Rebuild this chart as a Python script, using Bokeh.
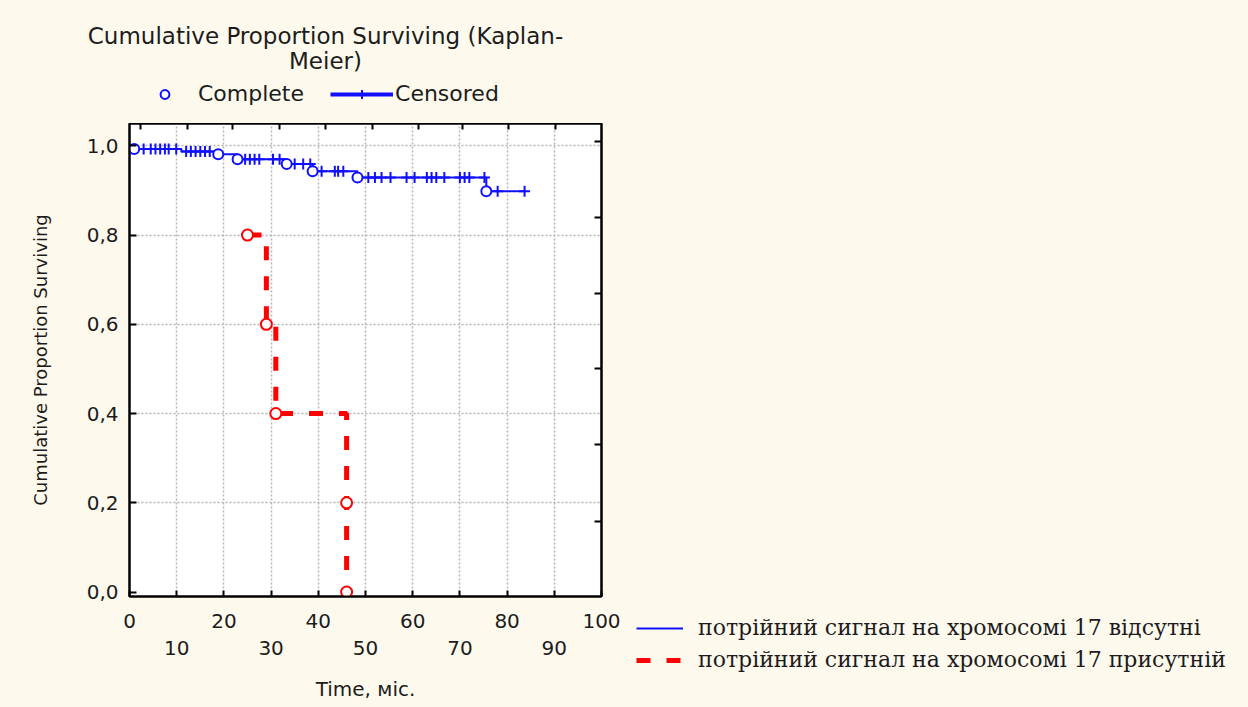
from bokeh.plotting import figure
from bokeh.layouts import row, column
from bokeh.models import (Range1d, LinearAxis, FixedTicker, CustomJSTickFormatter,
                          Legend, LegendItem, Label, Grid)
from bokeh.embed import file_html
from bokeh.resources import INLINE

NAN = float("nan")

# ---------------- data ----------------
# group 1: triple signal on chromosome 17 absent (blue)
absent_time = [1.0, 11.0, 18.8, 22.9, 33.3, 38.8, 48.3, 75.6, 83.7]
absent_surv = [0.993, 0.987, 0.981, 0.970, 0.959, 0.943, 0.929, 0.898, 0.898]
absent_complete_time = [1.0, 18.8, 22.9, 33.3, 38.8, 48.3, 75.6]
absent_complete_surv = [0.993, 0.981, 0.970, 0.959, 0.943, 0.929, 0.898]
absent_censored_time = [3.0, 4.5, 5.5, 6.5, 7.5, 8.3, 9.9,
                        12.0, 13.0, 14.0, 15.0, 16.0, 17.0,
                        24.5, 25.5, 26.5, 27.5, 30.4, 31.8,
                        35.0, 36.8, 38.3,
                        40.7, 43.5, 44.2, 45.3,
                        50.6, 52.0, 53.4, 55.3, 58.7, 60.4, 63.0, 64.0, 65.0, 66.7,
                        70.0, 71.0, 72.0, 75.2,
                        78.0, 83.7]
absent_censored_surv = [0.993] * 7 + [0.987] * 6 + [0.970] * 6 + [0.959] * 3 + \
                       [0.943] * 4 + [0.929] * 14 + [0.898] * 2

# group 2: triple signal on chromosome 17 present (red)
present_time = [25.0, 29.0, 31.0, 46.0, 46.0]
present_surv = [0.8, 0.6, 0.4, 0.2, 0.0]

x_ticks = [0, 10, 20, 30, 40, 50, 60, 70, 80, 90, 100]
x_ticks_row2 = [10, 30, 50, 70, 90]
y_ticks = [0.0, 0.2, 0.4, 0.6, 0.8, 1.0]
x_grid = [10, 20, 30, 40, 50, 60, 70, 80, 90]
y_grid = [0.2, 0.4, 0.6, 0.8, 1.0]
top_ticks = [2.3, 12.2, 21.9, 31.8, 41.6, 51.4, 61.3, 70.5, 80.4, 90.3]
right_ticks = [0.159, 0.33, 0.5, 0.668, 0.839, 1.009]

title_lines = ["Cumulative Proportion Surviving (Kaplan-", "Meier)"]
label_absent = "потрійний сигнал на хромосомі 17 відсутні"
label_present = "потрійний сигнал на хромосомі 17 присутній"

BLUE = "#1010ff"
RED = "#ff0000"
CREAM = "#fef9ed"
TXT = "#1c1c1c"
FONT = "DejaVu Sans"
W, H = 1248, 707
TOP_H = 123
MAIN_W = 626


def blank_panel(width, height, xr, yr):
    f = figure(width=width, height=height, x_range=xr, y_range=yr,
               output_backend="svg", toolbar_location=None,
               x_axis_type=None, y_axis_type=None, min_border=0)
    f.background_fill_color = CREAM
    f.border_fill_color = CREAM
    f.outline_line_color = None
    return f


# ---------------- top panel: title and marker legend ----------------
t = blank_panel(MAIN_W, TOP_H, Range1d(0, MAIN_W), Range1d(TOP_H, 0))
t.add_layout(Label(x=325, y=35, text=title_lines[0], text_align="center", text_baseline="middle",
                   text_font=FONT, text_font_size="23px", text_color=TXT))
t.add_layout(Label(x=325, y=60, text=title_lines[1], text_align="center", text_baseline="middle",
                   text_font=FONT, text_font_size="23px", text_color=TXT))
d_circle = t.scatter(x=[NAN], y=[NAN], marker="circle", size=9, line_color=BLUE, line_width=2,
                     fill_color="white")
d_line = t.line(x=[NAN], y=[NAN], line_color=BLUE, line_width=4)
d_cross = t.scatter(x=[NAN], y=[NAN], marker="cross", size=13, line_color=BLUE, line_width=2)
leg_m = Legend(items=[LegendItem(label="Complete", renderers=[d_circle]),
                      LegendItem(label="Censored", renderers=[d_line, d_cross])],
               location=(133, 17), orientation="horizontal",
               glyph_width=63, glyph_height=22, label_height=22, label_standoff=2, spacing=26,
               padding=0, margin=0, border_line_color=None, background_fill_alpha=0,
               label_text_font=FONT, label_text_font_size="22px", label_text_color=TXT)
t.add_layout(leg_m, "center")

# ---------------- main plot ----------------
p = figure(width=MAIN_W, height=H - TOP_H, x_range=Range1d(0, 100), y_range=Range1d(-0.01, 1.05),
           output_backend="svg", toolbar_location=None,
           x_axis_type=None, y_axis_type=None,
           min_border_left=129, min_border_right=MAIN_W - 129 - 472,
           min_border_top=0, min_border_bottom=111)
p.background_fill_color = "white"
p.border_fill_color = CREAM
p.outline_line_color = "black"
p.outline_line_width = 2

grid_kw = dict(grid_line_color="#b5b5b5", grid_line_dash="2 2", grid_line_width=1.5)
p.add_layout(Grid(dimension=0, ticker=FixedTicker(ticks=x_grid), **grid_kw))
p.add_layout(Grid(dimension=1, ticker=FixedTicker(ticks=y_grid), **grid_kw))


def style_axis(ax, tick_in=6):
    ax.axis_line_color = "black"
    ax.axis_line_width = 2
    ax.major_tick_line_color = "black"
    ax.major_tick_line_width = 2
    ax.major_tick_in = tick_in
    ax.major_tick_out = 0
    ax.minor_tick_line_color = None
    ax.major_label_text_font = FONT
    ax.major_label_text_font_size = "20px"
    ax.major_label_text_color = TXT
    ax.axis_label_text_font = FONT
    ax.axis_label_text_font_style = "normal"
    ax.axis_label_text_color = TXT


xa1 = LinearAxis(ticker=FixedTicker(ticks=x_ticks),
                 formatter=CustomJSTickFormatter(code="return (Math.round(tick) % 20 == 0) ? tick.toFixed(0) : '';"))
style_axis(xa1, 6)
xa1.major_label_standoff = 17
p.add_layout(xa1, "below")

xa2 = LinearAxis(ticker=FixedTicker(ticks=x_ticks_row2), axis_label="Time, міс.")
style_axis(xa2, 0)
xa2.axis_line_color = None
xa2.major_tick_line_color = None
xa2.major_label_standoff = 10
xa2.axis_label_standoff = 19
xa2.axis_label_text_font_size = "20px"
p.add_layout(xa2, "below")

ya = LinearAxis(ticker=FixedTicker(ticks=y_ticks), axis_label="Cumulative Proportion Surviving",
                formatter=CustomJSTickFormatter(code="return tick.toFixed(1).replace('.', ',');"))
style_axis(ya, 7)
ya.major_label_standoff = 11
ya.axis_label_standoff = 33
ya.axis_label_text_font_size = "18px"
p.add_layout(ya, "left")

ra = LinearAxis(ticker=FixedTicker(ticks=right_ticks), formatter=CustomJSTickFormatter(code="return '';"))
style_axis(ra, 7)
ra.major_label_text_font_size = "0px"
ra.major_label_standoff = 0
p.add_layout(ra, "right")
ta = LinearAxis(ticker=FixedTicker(ticks=top_ticks), formatter=CustomJSTickFormatter(code="return '';"))
style_axis(ta, 6)
ta.major_label_text_font_size = "0px"
ta.major_label_standoff = 0
p.add_layout(ta, "above")

p.step(absent_time, absent_surv, mode="after", line_color=BLUE, line_width=2)
p.scatter(absent_censored_time, absent_censored_surv, marker="cross", size=11,
          line_color=BLUE, line_width=2)
p.scatter(absent_complete_time, absent_complete_surv, marker="circle", size=10,
          line_color=BLUE, line_width=2, fill_color="white")

p.step(present_time, present_surv, mode="after", line_color=RED, line_width=5,
       line_dash="14 16")
p.scatter(present_time, present_surv, marker="circle", size=11,
          line_color=RED, line_width=2, fill_color="white")

# ---------------- right panel: group legend (full height) ----------------
q = blank_panel(W - MAIN_W, H, Range1d(0, 1), Range1d(0, 1))
g_absent = q.line(x=[NAN], y=[NAN], line_color=BLUE, line_width=2)
g_present = q.line(x=[NAN], y=[NAN], line_color=RED, line_width=5, line_dash="14 16")
leg_g = Legend(items=[LegendItem(label=label_absent, renderers=[g_absent]),
                      LegendItem(label=label_present, renderers=[g_present])],
               location=(10, 35), orientation="vertical",
               glyph_width=47, glyph_height=22, label_height=22, label_standoff=15, spacing=7,
               padding=0, margin=0, border_line_color=None, background_fill_alpha=0,
               label_text_font="DejaVu Serif", label_text_font_size="22px", label_text_color=TXT)
q.add_layout(leg_g, "center")

left_col = column(t, row(p, spacing=0), spacing=0, styles={"background-color": CREAM})
layout = row(left_col, column(q, spacing=0), spacing=0, styles={"background-color": CREAM})
open("out.html", "w").write(file_html(layout, INLINE))
